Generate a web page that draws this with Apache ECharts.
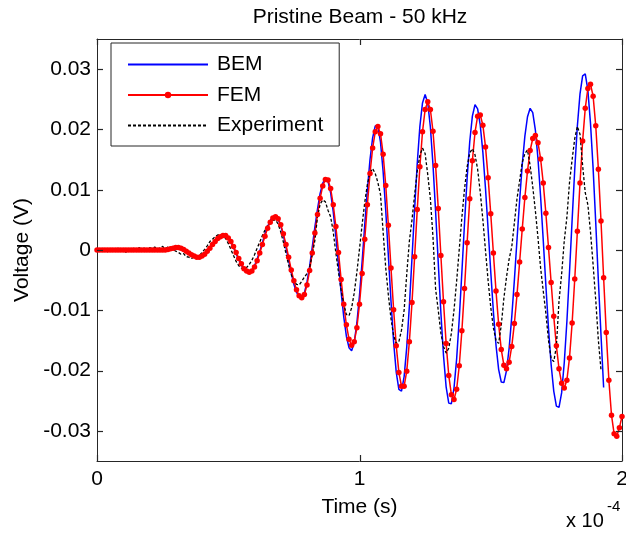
<!DOCTYPE html>
<html>
<head>
<meta charset="utf-8">
<script src="https://cdn.jsdelivr.net/npm/echarts@6/dist/echarts.min.js"></script>
<style>
html,body{margin:0;padding:0;background:#fff;}
#chart{width:626px;height:533px;}
</style>
</head>
<body>
<div id="chart"></div>
<script>
// ---- data ----
const chartTitle = 'Pristine Beam - 50 kHz';
const seriesNames = ['BEM', 'FEM', 'Experiment'];
const timeStepSeconds = 1e-6;           // all records sampled every 1 microsecond, starting at t = 0
const xTicks = [0, 1e-4, 2e-4];
const yTicks = [-0.03, -0.02, -0.01, 0, 0.01, 0.02, 0.03];
const xRange = [0, 2e-4];
const yRange = [-0.035, 0.035];

const bemValues = [
  0,0,0,0,0,0,0,0,0,0,
  0,0,0,0,0,0,0,0,0,0,
  0,0,0,0,0,0,0,0.0001,0.0002,0.0003,
  0.0004,0.0004,0.0003,0.0001,-0.0002,-0.0005,-0.0008,-0.0011,-0.0012,-0.0012,
  -0.0009,-0.0006,-0.0001,0.0004,0.0010,0.0015,0.0020,0.0023,0.0024,0.0023,
  0.0019,0.0013,0.0004,-0.0006,-0.0016,-0.0025,-0.0032,-0.0036,-0.0037,-0.0034,
  -0.0026,-0.0015,-0.0002,0.0012,0.0027,0.0039,0.0049,0.0055,0.0056,0.0051,
  0.0040,0.0024,0.0004,-0.0017,-0.0038,-0.0057,-0.0070,-0.0078,-0.0080,-0.0071,
  -0.0053,-0.0027,0.0005,0.0038,0.0068,0.0094,0.0111,0.0119,0.0114,0.0095,
  0.0063,0.0022,-0.0024,-0.0070,-0.0111,-0.0143,-0.0162,-0.0167,-0.0153,-0.0121,
  -0.0075,-0.0019,0.0042,0.0100,0.0150,0.0186,0.0206,0.0205,0.0179,0.0130,
  0.0065,-0.0010,-0.0085,-0.0153,-0.0203,-0.0231,-0.0234,-0.0210,-0.0161,-0.0093,
  -0.0013,0.0068,0.0144,0.0205,0.0244,0.0258,0.0244,0.0204,0.0141,0.0063,
  -0.0021,-0.0104,-0.0175,-0.0227,-0.0254,-0.0255,-0.0229,-0.0181,-0.0114,-0.0037,
  0.0044,0.0119,0.0180,0.0222,0.0241,0.0234,0.0207,0.0162,0.0102,0.0034,
  -0.0036,-0.0102,-0.0158,-0.0198,-0.0219,-0.0220,-0.0200,-0.0163,-0.0111,-0.0050,
  0.0017,0.0082,0.0142,0.0189,0.0221,0.0235,0.0228,0.0199,0.0151,0.0088,
  0.0016,-0.0059,-0.0130,-0.0190,-0.0234,-0.0259,-0.0261,-0.0237,-0.0187,-0.0119,
  -0.0037,0.0050,0.0134,0.0206,0.0259,0.0289,0.0292,0.0265,0.0210,0.0135,
  0.0045,-0.0051,-0.0141,-0.0228
];

const femValues = [
  0,0,0,0,0,0,0,0,0,0,
  0,0,0,0,0,0,0,0,0,0,
  0,0,0,0,0,0,0,0.0001,0.0002,0.0003,
  0.0004,0.0004,0.0003,0.0001,-0.0002,-0.0005,-0.0008,-0.0010,-0.0012,-0.0012,
  -0.0010,-0.0007,-0.0002,0.0003,0.0009,0.0014,0.0019,0.0022,0.0024,0.0024,
  0.0020,0.0014,0.0006,-0.0004,-0.0014,-0.0023,-0.0031,-0.0035,-0.0037,-0.0035,
  -0.0028,-0.0018,-0.0005,0.0009,0.0023,0.0036,0.0046,0.0053,0.0055,0.0052,
  0.0042,0.0027,0.0009,-0.0012,-0.0033,-0.0051,-0.0066,-0.0076,-0.0079,-0.0074,
  -0.0058,-0.0034,-0.0005,0.0028,0.0059,0.0086,0.0106,0.0117,0.0116,0.0102,
  0.0075,0.0039,-0.0004,-0.0049,-0.0090,-0.0124,-0.0148,-0.0158,-0.0152,-0.0129,
  -0.0090,-0.0039,0.0018,0.0075,0.0127,0.0169,0.0196,0.0205,0.0193,0.0159,
  0.0107,0.0041,-0.0030,-0.0099,-0.0159,-0.0203,-0.0226,-0.0226,-0.0201,-0.0152,
  -0.0087,-0.0011,0.0067,0.0138,0.0196,0.0233,0.0246,0.0233,0.0197,0.0140,
  0.0069,-0.0009,-0.0086,-0.0155,-0.0208,-0.0240,-0.0248,-0.0231,-0.0192,-0.0134,
  -0.0064,0.0012,0.0085,0.0148,0.0195,0.0222,0.0224,0.0207,0.0171,0.0120,
  0.0060,-0.0005,-0.0068,-0.0123,-0.0165,-0.0191,-0.0197,-0.0186,-0.0160,-0.0122,
  -0.0074,-0.0020,0.0035,0.0087,0.0131,0.0165,0.0185,0.0190,0.0178,0.0151,
  0.0111,0.0061,0.0004,-0.0054,-0.0110,-0.0159,-0.0197,-0.0221,-0.0229,-0.0216,
  -0.0179,-0.0121,-0.0048,0.0031,0.0111,0.0181,0.0235,0.0268,0.0275,0.0255,
  0.0206,0.0134,0.0048,-0.0046,-0.0137,-0.0216,-0.0274,-0.0305,-0.0309,-0.0295,
  -0.0276
];

const experimentValues = [
  0.0000,0.0002,-0.0001,0.0001,-0.0003,0.0002,0.0000,-0.0002,0.0003,-0.0001,
  0.0001,-0.0004,0.0002,0.0000,0.0003,-0.0002,0.0004,0.0001,0.0003,-0.0002,
  0.0004,0.0002,0.0005,0.0001,0.0004,0.0006,0.0002,0.0005,0.0003,0.0001,
  -0.0002,-0.0004,-0.0007,-0.0006,-0.0011,-0.0012,-0.0014,-0.0012,-0.0013,-0.0009,
  -0.0004,0.0001,0.0007,0.0014,0.0018,0.0022,0.0025,0.0026,0.0024,0.0019,
  0.0011,0.0001,-0.0009,-0.0019,-0.0026,-0.0030,-0.0031,-0.0029,-0.0024,-0.0017,
  -0.0008,0.0003,0.0013,0.0024,0.0033,0.0041,0.0046,0.0049,0.0050,0.0043,
  0.0030,0.0013,-0.0006,-0.0025,-0.0041,-0.0051,-0.0057,-0.0058,-0.0052,-0.0045,
  -0.0039,-0.0029,-0.0008,0.0016,0.0055,0.0076,0.0083,0.0080,0.0066,0.0055,
  0.0030,-0.0005,-0.0037,-0.0067,-0.0089,-0.0107,-0.0109,-0.0096,-0.0071,-0.0037,
  0.0002,0.0042,0.0079,0.0109,0.0128,0.0135,0.0127,0.0112,0.0092,0.0030,
  -0.0030,-0.0075,-0.0114,-0.0142,-0.0155,-0.0152,-0.0133,-0.0100,-0.0040,0.0015,
  0.0050,0.0092,0.0131,0.0157,0.0169,0.0160,0.0125,0.0085,0.0021,-0.0065,
  -0.0100,-0.0138,-0.0160,-0.0171,-0.0163,-0.0138,-0.0100,-0.0052,0.0001,0.0054,
  0.0101,0.0138,0.0161,0.0168,0.0158,0.0134,0.0096,0.0050,-0.0001,-0.0051,
  -0.0095,-0.0129,-0.0150,-0.0155,-0.0125,-0.0080,-0.0045,-0.0015,0.0005,0.0045,
  0.0085,0.0115,0.0145,0.0160,0.0166,0.0140,0.0105,0.0065,0.0020,-0.0030,
  -0.0068,-0.0105,-0.0150,-0.0180,-0.0185,-0.0160,-0.0085,-0.0040,0.0015,0.0054,
  0.0112,0.0150,0.0185,0.0205,0.0192,0.0140,0.0095,0.0075,0.0030,-0.0025,
  -0.0083,-0.0150,-0.0199
];

// ---- chart ----
const FONT = '"Liberation Sans", Arial, Helvetica, sans-serif';
const FS = 21;
const FRAME = '#262626';
const TICK_LEN = 6;
function toPoints(values) {
  return values.map((v, i) => [i * timeStepSeconds, v]);
}
const chart = echarts.init(document.getElementById('chart'), null, {renderer: 'canvas'});

const xFmt = v => String(Math.round(v * 1e4));
const yFmt = v => (Math.abs(v) < 1e-12 ? '0' : v.toFixed(2));

function axisLine() { return {show: true, onZero: false, lineStyle: {color: FRAME, width: 1}}; }
const baseX = () => ({
  type: 'value', min: xRange[0], max: xRange[1], interval: 1e-4,
  splitLine: {show: false}, axisLine: axisLine(), axisTick: {show: false}
});
const baseY = () => ({
  type: 'value', min: yRange[0], max: yRange[1],
  splitLine: {show: false}, axisLine: axisLine(), axisTick: {show: false}
});

// inward tick marks drawn on all four sides through the axes' own scales (api.coord)
function tickSeries(values, isY) {
  return {
    type: 'custom', name: isY ? '_yticks' : '_xticks',
    xAxisIndex: 0, yAxisIndex: 0, silent: true, clip: false, z: 10,
    data: values.map(v => isY ? [xRange[0], v] : [v, yRange[0]]),
    renderItem: function (params, api) {
      const v = isY ? api.value(1) : api.value(0);
      const lineStyle = {stroke: FRAME, lineWidth: 1.2};
      if (isY) {
        const a = api.coord([xRange[0], v]);
        const b = api.coord([xRange[1], v]);
        const y = Math.round(a[1]) + 0.5;
        return {type: 'group', children: [
          {type: 'line', shape: {x1: a[0], y1: y, x2: a[0] + TICK_LEN, y2: y}, style: lineStyle},
          {type: 'line', shape: {x1: b[0] - TICK_LEN, y1: y, x2: b[0], y2: y}, style: lineStyle}
        ]};
      }
      const a = api.coord([v, yRange[0]]);
      const b = api.coord([v, yRange[1]]);
      const x = Math.round(a[0]) + 0.5;
      return {type: 'group', children: [
        {type: 'line', shape: {x1: x, y1: a[1], x2: x, y2: a[1] - TICK_LEN}, style: lineStyle},
        {type: 'line', shape: {x1: x, y1: b[1], x2: x, y2: b[1] + TICK_LEN}, style: lineStyle}
      ]};
    }
  };
}

chart.setOption({
  animation: false,
  backgroundColor: '#fff',
  textStyle: {fontFamily: FONT},
  grid: {left: 97, right: 4, top: 39, bottom: 72, show: false, containLabel: false, outerBoundsMode: 'none'},
  legend: {
    data: [
      {name: seriesNames[0], itemStyle: {opacity: 0}},
      {name: seriesNames[1]},
      {name: seriesNames[2], itemStyle: {opacity: 0}}
    ],
    orient: 'vertical',
    left: 111, top: 43,
    padding: [11, 16, 10, 16],
    itemWidth: 80, itemHeight: 8, itemGap: 9.5,
    borderColor: FRAME, borderWidth: 1,
    backgroundColor: '#fff',
    textStyle: {fontFamily: FONT, fontSize: FS, color: '#000', padding: [0, 0, 0, 4]}
  },
  xAxis: [
    Object.assign(baseX(), {
      position: 'bottom',
      axisLabel: {show: true, margin: 8, fontSize: FS, color: '#000', fontFamily: FONT, formatter: xFmt, customValues: xTicks},
      name: 'Time (s)', nameLocation: 'middle', nameGap: 36,
      nameTextStyle: {fontSize: FS, color: '#000', fontFamily: FONT}
    }),
    Object.assign(baseX(), {position: 'top', axisLabel: {show: false}})
  ],
  yAxis: [
    Object.assign(baseY(), {
      position: 'left',
      axisLabel: {show: true, margin: 6, fontSize: FS, color: '#000', fontFamily: FONT, formatter: yFmt, customValues: yTicks},
      name: 'Voltage (V)', nameLocation: 'middle', nameGap: 64,
      nameTextStyle: {fontSize: FS, color: '#000', fontFamily: FONT}
    }),
    Object.assign(baseY(), {position: 'right', axisLabel: {show: false}})
  ],
  graphic: [
    {type: 'text', x: 360, y: 17, style: {text: chartTitle, fontFamily: FONT, fontSize: FS, fill: '#000', textAlign: 'center', textVerticalAlign: 'middle'}},
    {type: 'text', x: 566, y: 521, style: {text: 'x 10', fontFamily: FONT, fontSize: 20, fill: '#000', textAlign: 'left', textVerticalAlign: 'middle'}},
    {type: 'text', x: 607, y: 507, style: {text: '-4', fontFamily: FONT, fontSize: 15, fill: '#000', textAlign: 'left', textVerticalAlign: 'middle'}}
  ],
  series: [
    tickSeries(yTicks, true),
    tickSeries(xTicks, false),
    {
      name: seriesNames[0], type: 'line', xAxisIndex: 0, yAxisIndex: 0,
      data: toPoints(bemValues), symbol: 'none', showSymbol: false, smooth: false,
      lineStyle: {color: '#0000ff', width: 1.5}, itemStyle: {color: '#0000ff'}
    },
    {
      name: seriesNames[1], type: 'line', xAxisIndex: 0, yAxisIndex: 0,
      data: toPoints(femValues), symbol: 'circle', symbolSize: 5.5, showSymbol: true, showAllSymbol: true,
      lineStyle: {color: '#ff0000', width: 1.5}, itemStyle: {color: '#ff0000'}
    },
    {
      name: seriesNames[2], type: 'line', xAxisIndex: 0, yAxisIndex: 0,
      data: toPoints(experimentValues), symbol: 'none', showSymbol: false,
      lineStyle: {color: '#000000', width: 1.3, type: [3, 2]}, itemStyle: {color: '#000000'}
    }
  ]
});
</script>
</body>
</html>
